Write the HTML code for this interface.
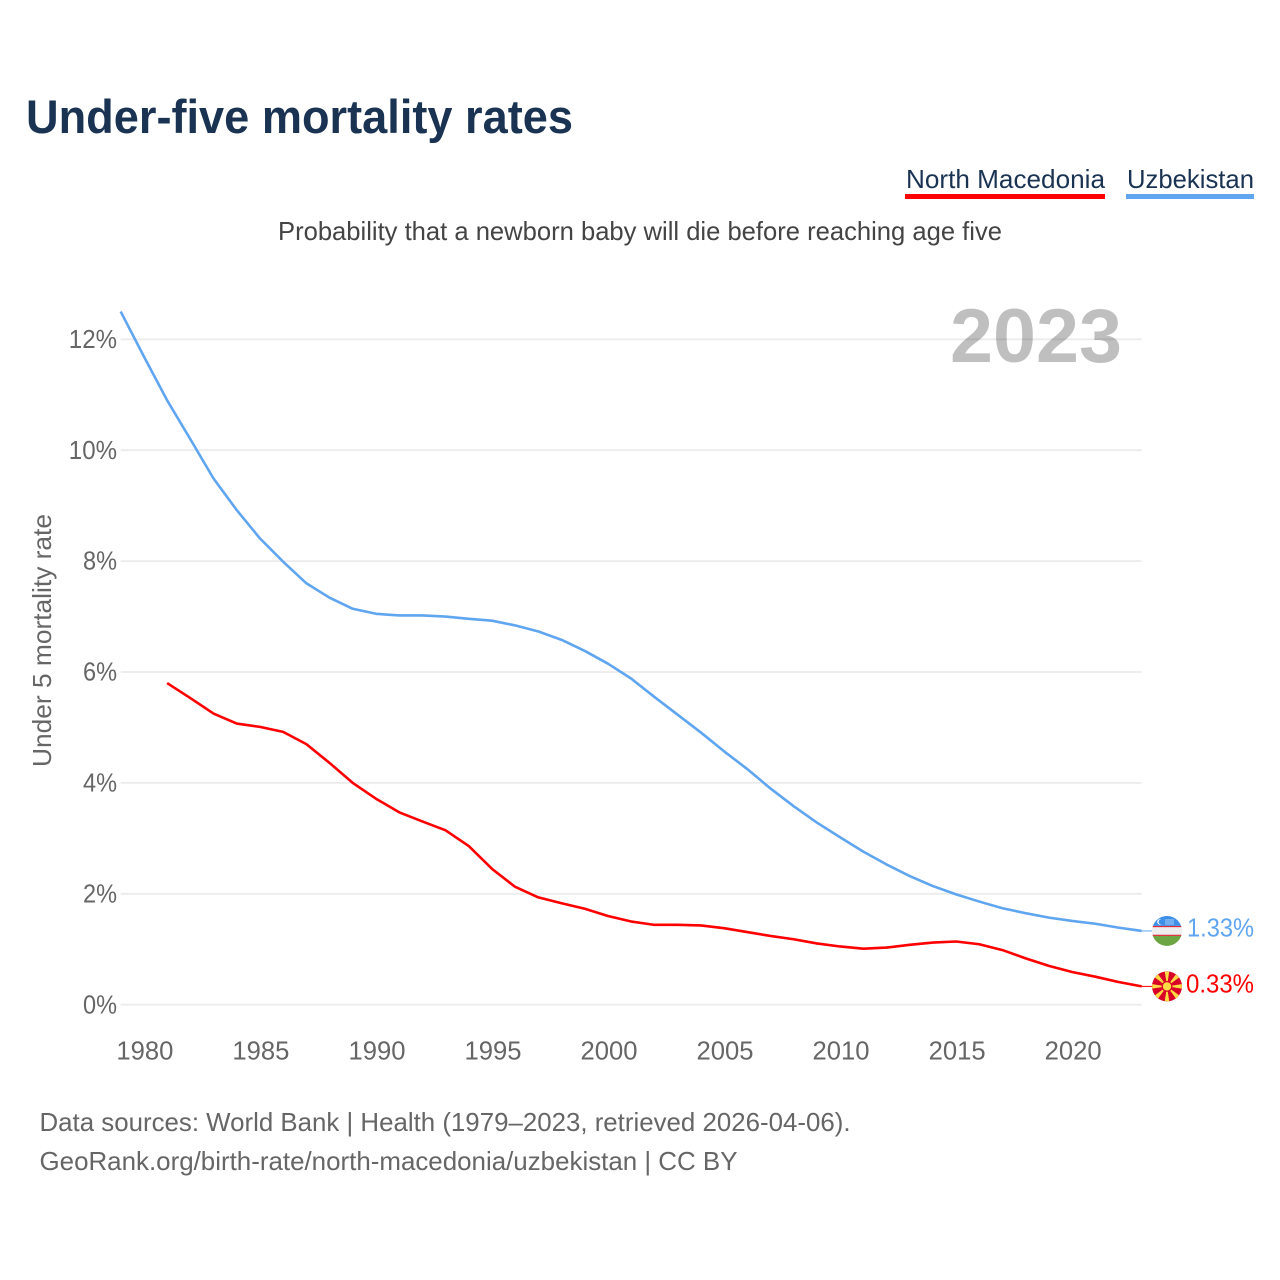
<!DOCTYPE html>
<html lang="en">
<head>
<meta charset="utf-8">
<title>Under-five mortality rates</title>
<style>
  html, body { margin: 0; padding: 0; background: #fff; }
  svg { display: block; }
  text { font-family: "Liberation Sans", sans-serif; }
</style>
</head>
<body>
<svg id="chart" xmlns="http://www.w3.org/2000/svg" width="1280" height="1280" viewBox="0 0 1280 1280">
  <rect x="0" y="0" width="1280" height="1280" fill="#ffffff"/>
  <text x="26" y="133" font-size="47" font-weight="700" fill="#1a3353" textLength="547" lengthAdjust="spacingAndGlyphs">Under-five mortality rates</text>

  <g>
    <text x="906" y="188" font-size="26" fill="#1a3353" textLength="199" lengthAdjust="spacingAndGlyphs">North Macedonia</text>
    <rect x="905" y="194" width="200" height="5" fill="#ff0000"/>
  </g>
  <g>
    <text x="1127" y="188" font-size="26" fill="#1a3353" textLength="127" lengthAdjust="spacingAndGlyphs">Uzbekistan</text>
    <rect x="1126" y="194" width="128" height="5" fill="#60a5ef"/>
  </g>

  <text x="278" y="240" font-size="26" fill="#444444" textLength="724" lengthAdjust="spacingAndGlyphs">Probability that a newborn baby will die before reaching age five</text>

  <g id="grid"></g>
  <text x="950" y="362" font-size="76" font-weight="700" fill="#000000" fill-opacity="0.25" textLength="172" lengthAdjust="spacingAndGlyphs">2023</text>
  <g id="yticks"></g>
  <g id="xticks"></g>
  <text transform="translate(51 767) rotate(-90)" x="0" y="0" font-size="26" fill="#666666" textLength="253" lengthAdjust="spacingAndGlyphs">Under 5 mortality rate</text>
  <g id="series"></g>
  <g id="end-uz"></g>
  <g id="end-mk"></g>

  <text x="39.5" y="1131" font-size="26" fill="#666666" textLength="811" lengthAdjust="spacingAndGlyphs">Data sources: World Bank | Health (1979–2023, retrieved 2026-04-06).</text>
  <text x="39.5" y="1170" font-size="26" fill="#666666" textLength="698" lengthAdjust="spacingAndGlyphs">GeoRank.org/birth-rate/north-macedonia/uzbekistan | CC BY</text>
</svg>
<script>
const firstYear = 1979;
const yTickValues = [0, 2, 4, 6, 8, 10, 12];
const xTickYears = [1980, 1985, 1990, 1995, 2000, 2005, 2010, 2015, 2020];
const uzbekistanValues = [12.5, 11.69, 10.9, 10.2, 9.49, 8.92, 8.41, 7.99, 7.6, 7.34, 7.14, 7.05, 7.02, 7.02, 7.0, 6.96, 6.925, 6.84, 6.73, 6.58, 6.38, 6.15, 5.88, 5.55, 5.23, 4.91, 4.57, 4.25, 3.9, 3.58, 3.285, 3.02, 2.76, 2.53, 2.32, 2.14, 1.99, 1.86, 1.74, 1.65, 1.57, 1.51, 1.46, 1.39, 1.33];
const northMacedoniaValues = [null, null, 5.8, 5.53, 5.25, 5.07, 5.01, 4.92, 4.7, 4.36, 4.0, 3.715, 3.47, 3.305, 3.145, 2.86, 2.45, 2.125, 1.935, 1.83, 1.73, 1.6, 1.5, 1.44, 1.44, 1.43, 1.38, 1.31, 1.24, 1.18, 1.105, 1.05, 1.01, 1.03, 1.08, 1.12, 1.14, 1.09, 0.985, 0.835, 0.7, 0.59, 0.505, 0.41, 0.33];

const NS = 'http://www.w3.org/2000/svg';
const xScale = function (year) { return 120.7 + (year - firstYear) * 23.205; };
const yScale = function (v) { return 1004.7 - v * 55.45; };
const axisRight = xScale(firstYear + uzbekistanValues.length - 1);

function make(tag, attrs, parent, content) {
  const el = document.createElementNS(NS, tag);
  for (const k in attrs) el.setAttribute(k, attrs[k]);
  if (content !== undefined) el.textContent = content;
  parent.appendChild(el);
  return el;
}

const gridG = document.getElementById('grid');
const yTickG = document.getElementById('yticks');
yTickValues.forEach(function (v) {
  const line = make('line', { x1: 120.7, x2: axisRight, y1: yScale(v), y2: yScale(v), stroke: '#ececec', 'stroke-width': 1.8 }, gridG);
  
  
  const label = v + '%';
  const t = make('text', { x: 117, y: yScale(v) + 8.6, 'text-anchor': 'end', 'font-size': 26, fill: '#666666', textLength: 14.2 * (label.length - 1) + 19.8, lengthAdjust: 'spacingAndGlyphs' }, yTickG, label);
  
  
});

const xTickG = document.getElementById('xticks');
xTickYears.forEach(function (yr) {
  const t = make('text', { x: xScale(yr) + 1, y: 1059.5, 'text-anchor': 'middle', 'font-size': 26, fill: '#666666', textLength: 57, lengthAdjust: 'spacingAndGlyphs' }, xTickG, String(yr));
  
  
});

function linePath(values) {
  let d = '';
  values.forEach(function (v, i) {
    if (v === null) return;
    d += (d ? 'L' : 'M') + xScale(firstYear + i).toFixed(2) + ' ' + yScale(v).toFixed(2);
  });
  return d;
}

const seriesG = document.getElementById('series');
const uzLine = make('path', { d: linePath(uzbekistanValues), fill: 'none', stroke: '#60a5ef', 'stroke-width': 2.6, 'stroke-linejoin': 'round' }, seriesG);


const mkLine = make('path', { d: linePath(northMacedoniaValues), fill: 'none', stroke: '#ff0000', 'stroke-width': 2.6, 'stroke-linejoin': 'round' }, seriesG);



const flagX = 1167;
const flagR = 15;

/* Uzbekistan end marker */
const uzLast = uzbekistanValues[uzbekistanValues.length - 1];
const uzY = yScale(uzLast);
const uzG = document.getElementById('end-uz');
make('line', { x1: axisRight, x2: flagX - flagR, y1: uzY, y2: uzY, stroke: '#60a5ef', 'stroke-width': 1 }, uzG);
const uzClip = make('clipPath', { id: 'uz-clip' }, uzG);
make('circle', { cx: flagX, cy: uzY, r: flagR }, uzClip);
const uzFlag = make('g', { 'clip-path': 'url(#uz-clip)' }, uzG);


make('rect', { x: flagX - flagR, y: uzY - flagR, width: 30, height: 10, fill: '#3d8fe8' }, uzFlag);
make('rect', { x: flagX - flagR, y: uzY - 5, width: 30, height: 10, fill: '#eeeeee' }, uzFlag);
make('rect', { x: flagX - flagR, y: uzY - 5, width: 30, height: 1.2, fill: '#e0293a' }, uzFlag);
make('rect', { x: flagX - flagR, y: uzY + 3.8, width: 30, height: 1.2, fill: '#e0293a' }, uzFlag);
make('rect', { x: flagX - flagR, y: uzY + 5, width: 30, height: 10, fill: '#6da544' }, uzFlag);
make('circle', { cx: flagX - 7, cy: uzY - 9, r: 2.8, fill: '#ffffff' }, uzFlag);
make('circle', { cx: flagX - 6, cy: uzY - 9, r: 2.4, fill: '#3d8fe8' }, uzFlag);
make('rect', { x: flagX - 2, y: uzY - 11.5, width: 9, height: 1, fill: '#a9cdf5' }, uzFlag);
make('rect', { x: flagX - 2, y: uzY - 9.5, width: 9, height: 1, fill: '#a9cdf5' }, uzFlag);
make('rect', { x: flagX - 2, y: uzY - 7.5, width: 9, height: 1, fill: '#a9cdf5' }, uzFlag);
const uzLabel = make('text', { x: 1187, y: uzY + 5.7, 'font-size': 26, fill: '#60a5ef', textLength: 67, lengthAdjust: 'spacingAndGlyphs' }, uzG, uzLast.toFixed(2) + '%');



/* North Macedonia end marker */
const mkLast = northMacedoniaValues[northMacedoniaValues.length - 1];
const mkY = yScale(mkLast);
const mkG = document.getElementById('end-mk');
make('line', { x1: axisRight, x2: flagX - flagR, y1: mkY, y2: mkY, stroke: '#ff0000', 'stroke-width': 1 }, mkG);
const mkFlag = make('g', {}, mkG);


make('circle', { cx: flagX, cy: mkY, r: flagR, fill: '#d80027' }, mkFlag);
for (let i = 0; i < 8; i++) {
  const a = i * Math.PI / 4;
  const w = 0.15;
  make('path', {
    d: 'M' + flagX + ' ' + mkY +
       'L' + (flagX + flagR * Math.cos(a - w)).toFixed(2) + ' ' + (mkY + flagR * Math.sin(a - w)).toFixed(2) +
       'L' + (flagX + flagR * Math.cos(a + w)).toFixed(2) + ' ' + (mkY + flagR * Math.sin(a + w)).toFixed(2) + 'Z',
    fill: '#ffda44'
  }, mkFlag);
}
make('circle', { cx: flagX, cy: mkY, r: 5.4, fill: '#d80027' }, mkFlag);
make('circle', { cx: flagX, cy: mkY, r: 4.2, fill: '#ffda44' }, mkFlag);
const mkLabel = make('text', { x: 1186, y: mkY + 6, 'font-size': 26, fill: '#ff0000', textLength: 68, lengthAdjust: 'spacingAndGlyphs' }, mkG, mkLast.toFixed(2) + '%');


</script>
</body>
</html>
